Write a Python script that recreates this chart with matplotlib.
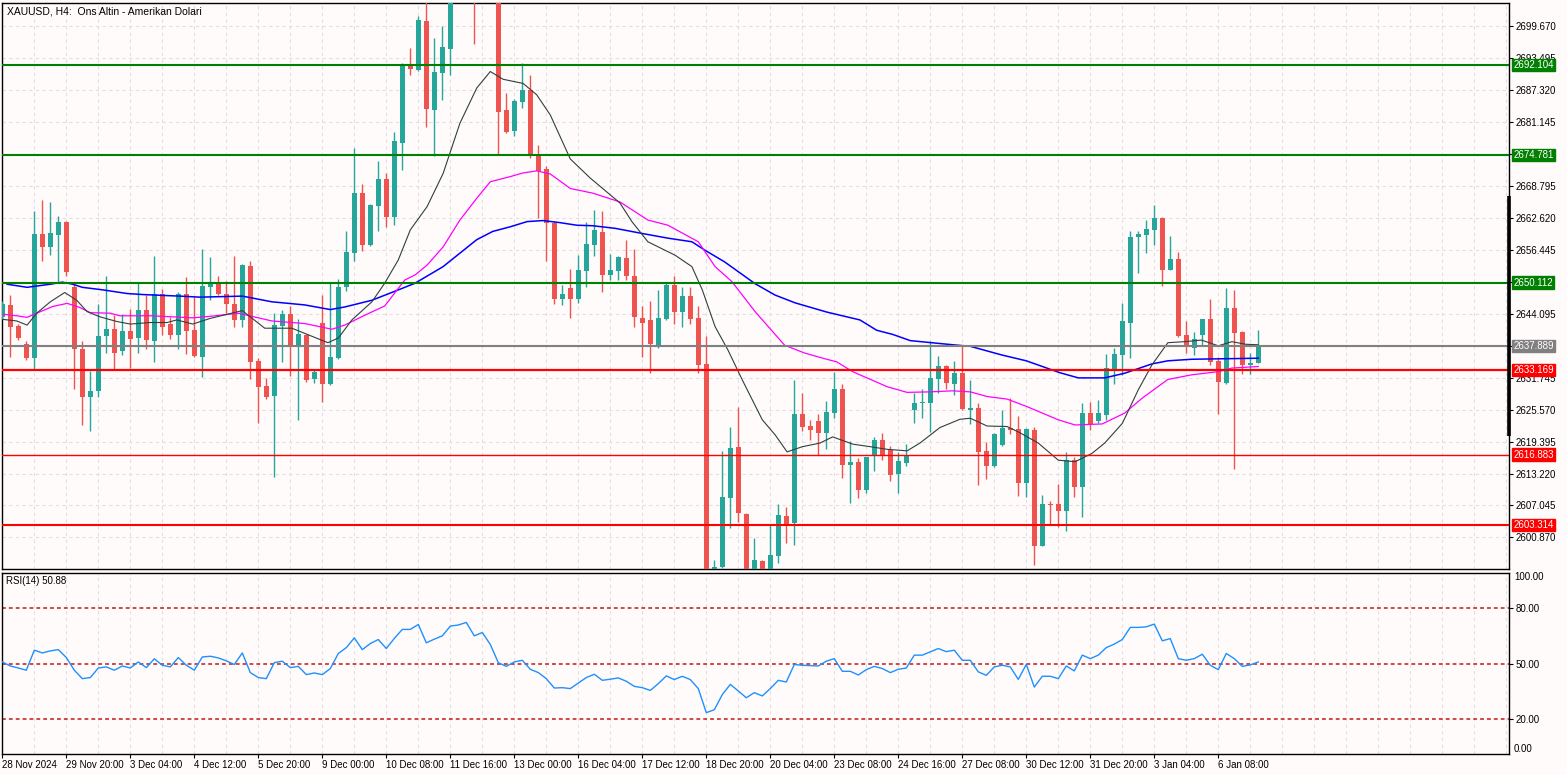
import matplotlib
matplotlib.use("Agg")
import matplotlib.pyplot as plt
import matplotlib.transforms as mtransforms
import numpy as np

plt.rcParams['font.family'] = ['Liberation Sans', 'DejaVu Sans']

# XAUUSD H4 candles
opens = [2643.5, 2645.8, 2641.8, 2638.2, 2635.6, 2659.5, 2656.9, 2659.4, 2661.8, 2649.3,
         2637.3, 2628.1, 2629.2, 2639.7, 2641.1, 2636.8, 2640.8, 2639.5, 2644.8, 2638.8,
         2648.0, 2642.1, 2639.9, 2648.0, 2640.9, 2635.8, 2649.3, 2650.0, 2647.9, 2646.0,
         2642.9, 2653.3, 2635.0, 2630.1, 2628.2, 2641.8, 2644.0, 2638.1, 2640.0, 2631.5,
         2642.4, 2630.5, 2635.5, 2649.2, 2655.9, 2667.5, 2657.4, 2664.9, 2670.1, 2662.8,
         2677.0, 2692.0, 2691.2, 2700.7, 2683.5, 2690.7, 2695.2, 2708.0, 2714.0, 2712.0,
         2708.0, 2720.0, 2714.0, 2683.5, 2679.5, 2685.1, 2687.3, 2674.6, 2672.0, 2661.7,
         2646.9, 2649.0, 2646.9, 2652.4, 2657.4, 2659.9, 2651.6, 2652.4, 2654.9, 2651.4,
         2643.3, 2642.9, 2638.1, 2643.1, 2649.6, 2644.5, 2647.5, 2643.3, 2634.4, 2592.0,
         2595.2, 2608.5, 2618.4, 2605.4, 2590.0, 2596.3, 2592.5, 2597.3, 2605.0, 2603.6,
         2624.7, 2622.4, 2623.3, 2621.1, 2624.9, 2629.5, 2614.9, 2615.4, 2610.0, 2616.7,
         2619.7, 2617.8, 2613.1, 2615.3, 2625.4, 2626.9, 2626.9, 2631.5, 2634.0, 2630.5,
         2632.7, 2625.5, 2625.9, 2617.6, 2614.7, 2618.7, 2622.1, 2621.8, 2611.4, 2621.6,
         2599.3, 2607.4, 2607.3, 2606.0, 2615.9, 2610.7, 2624.9, 2623.4, 2624.5, 2633.4,
         2636.1, 2642.4, 2659.0, 2659.3, 2660.3, 2662.6, 2652.6, 2654.7, 2639.9, 2637.5,
         2640.0, 2643.1, 2635.0, 2630.8, 2645.3, 2640.6, 2634.1, 2634.6]
highs = [2646.5, 2647.7, 2642.1, 2638.8, 2664.0, 2666.1, 2665.7, 2663.0, 2662.1, 2649.8,
         2638.8, 2633.1, 2646.0, 2651.4, 2643.9, 2644.0, 2645.0, 2650.0, 2647.7, 2655.2,
         2648.9, 2643.5, 2648.3, 2651.1, 2647.3, 2656.7, 2655.1, 2651.4, 2650.4, 2655.2,
         2653.7, 2654.3, 2635.5, 2631.6, 2644.3, 2644.8, 2645.5, 2643.0, 2640.1, 2633.4,
         2647.7, 2650.3, 2650.9, 2660.1, 2676.2, 2669.2, 2665.3, 2673.6, 2671.3, 2679.3,
         2692.5, 2695.5, 2701.7, 2705.5, 2697.4, 2699.6, 2712.0, 2716.0, 2721.0, 2718.0,
         2726.0, 2723.0, 2716.0, 2686.8, 2685.6, 2692.6, 2690.2, 2676.7, 2672.6, 2662.0,
         2649.6, 2652.7, 2655.4, 2661.9, 2664.1, 2664.0, 2655.6, 2655.2, 2658.3, 2656.7,
         2645.6, 2646.6, 2648.7, 2650.0, 2651.4, 2649.2, 2649.2, 2645.5, 2639.7, 2596.5,
         2617.6, 2622.3, 2626.1, 2605.6, 2600.7, 2596.5, 2603.5, 2607.3, 2606.7, 2631.3,
         2628.8, 2623.6, 2624.7, 2627.2, 2632.8, 2630.5, 2619.5, 2616.2, 2616.5, 2620.2,
         2621.0, 2618.5, 2617.4, 2618.9, 2628.8, 2629.5, 2638.8, 2635.9, 2634.2, 2635.0,
         2637.9, 2631.2, 2626.9, 2619.3, 2621.1, 2625.5, 2627.8, 2624.3, 2622.0, 2622.2,
         2609.1, 2608.0, 2611.2, 2617.3, 2616.5, 2626.9, 2627.1, 2627.4, 2636.3, 2637.4,
         2646.2, 2660.1, 2660.1, 2662.2, 2665.1, 2662.8, 2659.1, 2656.1, 2642.7, 2640.5,
         2643.1, 2646.9, 2635.8, 2649.1, 2648.7, 2640.8, 2636.6, 2640.9]
lows = [2643.0, 2635.8, 2639.0, 2635.2, 2633.4, 2654.2, 2655.4, 2650.3, 2651.3, 2629.6,
        2622.5, 2621.5, 2628.1, 2636.6, 2633.2, 2636.1, 2633.7, 2636.6, 2637.3, 2634.8,
        2639.9, 2639.2, 2637.3, 2636.3, 2635.8, 2631.9, 2646.7, 2647.7, 2644.2, 2641.6,
        2641.6, 2631.5, 2622.9, 2627.6, 2612.6, 2634.8, 2632.1, 2623.6, 2631.0, 2630.8,
        2627.1, 2630.3, 2635.4, 2648.4, 2654.3, 2656.3, 2657.2, 2660.1, 2660.9, 2661.2,
        2671.9, 2690.2, 2691.0, 2680.2, 2674.6, 2685.4, 2690.2, 2705.0, 2709.0, 2696.2,
        2706.0, 2710.0, 2674.8, 2679.1, 2678.5, 2683.9, 2674.1, 2662.5, 2654.3, 2646.0,
        2645.7, 2643.2, 2646.2, 2649.2, 2655.2, 2648.2, 2650.7, 2650.6, 2650.6, 2641.6,
        2635.8, 2632.6, 2637.5, 2642.9, 2642.1, 2641.6, 2642.2, 2632.6, 2584.0, 2588.0,
        2594.9, 2602.7, 2603.9, 2586.0, 2585.0, 2590.0, 2589.0, 2595.9, 2599.7, 2599.4,
        2621.5, 2619.7, 2616.8, 2617.9, 2624.0, 2612.4, 2607.6, 2608.5, 2609.5, 2613.7,
        2615.8, 2611.8, 2609.5, 2614.7, 2623.0, 2624.0, 2621.3, 2628.8, 2629.6, 2628.3,
        2625.5, 2622.8, 2611.0, 2612.2, 2614.4, 2618.6, 2620.8, 2608.9, 2608.7, 2595.5,
        2599.2, 2603.3, 2602.8, 2602.2, 2608.7, 2604.9, 2621.6, 2623.0, 2623.6, 2630.6,
        2632.3, 2635.6, 2652.0, 2655.9, 2657.4, 2649.5, 2652.5, 2639.6, 2636.6, 2636.1,
        2638.1, 2634.1, 2624.7, 2630.5, 2614.0, 2632.4, 2632.5, 2634.5]
closes = [2646.0, 2641.6, 2639.5, 2635.6, 2659.5, 2656.9, 2659.7, 2661.8, 2652.2, 2637.3,
          2628.1, 2629.2, 2639.8, 2641.1, 2636.6, 2640.8, 2639.3, 2644.8, 2639.0, 2648.0,
          2641.6, 2640.0, 2648.0, 2640.8, 2636.0, 2649.5, 2650.0, 2647.9, 2645.9, 2642.9,
          2653.5, 2634.8, 2630.0, 2628.1, 2641.9, 2644.0, 2638.1, 2640.2, 2631.3, 2632.8,
          2630.5, 2635.8, 2649.3, 2656.1, 2667.5, 2657.4, 2665.1, 2670.1, 2662.8, 2677.5,
          2692.3, 2691.4, 2700.9, 2683.7, 2690.9, 2695.7, 2708.0, 2714.0, 2712.0, 2708.0,
          2720.0, 2714.0, 2683.1, 2679.3, 2685.2, 2687.3, 2674.6, 2671.7, 2661.7, 2646.9,
          2648.0, 2646.9, 2652.5, 2657.6, 2660.3, 2651.6, 2652.5, 2655.0, 2651.4, 2643.5,
          2642.4, 2638.2, 2643.3, 2649.6, 2644.5, 2647.5, 2643.1, 2634.2, 2592.0, 2595.2,
          2608.7, 2618.2, 2605.5, 2590.0, 2596.5, 2592.5, 2597.5, 2605.2, 2603.3, 2624.7,
          2622.3, 2621.6, 2621.1, 2625.2, 2629.5, 2614.9, 2615.4, 2610.0, 2616.5, 2619.7,
          2616.7, 2612.9, 2615.6, 2616.7, 2626.9, 2627.0, 2631.6, 2634.0, 2630.8, 2632.7,
          2625.7, 2625.9, 2617.4, 2614.7, 2620.9, 2622.1, 2621.6, 2611.4, 2621.8, 2599.3,
          2607.3, 2607.1, 2606.0, 2615.9, 2610.7, 2624.9, 2622.7, 2624.9, 2633.6, 2636.3,
          2642.7, 2658.9, 2659.5, 2660.5, 2662.6, 2652.6, 2654.7, 2639.7, 2637.7, 2639.2,
          2643.1, 2634.8, 2631.0, 2645.3, 2640.3, 2634.1, 2634.6, 2637.9]

# moving averages, read at sample bars
ma_black_idx = [0.1, 1.8, 3.1, 4.3, 6, 7.8, 9.3, 10.6, 12.2, 14.3, 16, 18.5, 20.6, 21.8, 23.8, 26, 30, 32.8,
                36.2, 37.8, 40.7, 42, 43.7, 46.2, 47.8, 49.5, 51, 53.1, 55.1, 57.2, 59.3, 61, 62.6, 65.1,
                66.8, 68.5, 71, 73.5, 77.2, 78.7, 80.7, 84.1, 86.2, 87.5, 89.1, 90.7, 92.5, 95, 96.6, 98.1,
                100, 102.2, 103.8, 106.3, 108.5, 110.6, 113.1, 114.7, 117.2, 119.7, 121, 123.1, 125.6,
                127.2, 129.5, 132, 134.1, 136.2, 137.8, 140, 142, 143.7, 145.7, 147.8, 149.9, 152, 153.7,
                155.4, 157]
ma_black = [2643.0, 2642.7, 2641.9, 2644.2, 2646.4, 2648.2, 2646.7, 2644.5, 2643.5, 2642.6,
            2642.1, 2642.4, 2642.4, 2642.9, 2642.1, 2643.2, 2644.7, 2641.3, 2641.3, 2640.3,
            2638.5, 2639.4, 2642.9, 2646.4, 2650.0, 2654.5, 2660.3, 2664.8, 2671.2, 2680.9,
            2687.7, 2690.9, 2689.4, 2688.6, 2686.4, 2682.5, 2674.0, 2670.3, 2665.5, 2661.9,
            2658.0, 2655.4, 2653.2, 2648.7, 2641.6, 2637.1, 2631.3, 2623.6, 2620.7, 2617.4,
            2618.4, 2619.1, 2620.3, 2618.9, 2618.4, 2617.9, 2617.6, 2619.1, 2622.1, 2623.7,
            2623.9, 2622.4, 2622.3, 2621.1, 2619.1, 2615.8, 2615.5, 2617.1, 2619.1, 2622.9,
            2629.4, 2634.2, 2638.5, 2638.7, 2639.0, 2637.9, 2638.7, 2638.2, 2638.1]
ma_mag_idx = [0.1, 1.8, 3.1, 4.3, 6.3, 8.1, 9.7, 11, 13.5, 14.7, 18.5, 21.3, 23.8, 26, 29.5, 33.7, 37.8,
              41.2, 42.8, 45.3, 47.8, 50.3, 51.6, 53.1, 55.1, 57.2, 59.3, 61, 63.5, 65.1, 66.8, 68.5, 71,
              73.8, 77.2, 80.7, 83.2, 87, 89.1, 91.2, 94.1, 97.8, 100.3, 102.8, 104.3, 106.3, 110.6,
              113.1, 116, 118.8, 121, 123.1, 125.6, 128, 132, 134.1, 137.5, 140.3, 142.5, 145.7, 148.7,
              152, 153.7, 157]
ma_mag = [2644.0, 2643.7, 2643.4, 2644.2, 2645.5, 2646.1, 2645.3, 2644.3, 2644.2, 2643.7,
          2643.7, 2643.5, 2643.3, 2643.6, 2644.2, 2642.7, 2642.2, 2641.1, 2641.9, 2643.8,
          2645.6, 2650.6, 2651.6, 2653.5, 2657.0, 2662.2, 2666.4, 2669.6, 2670.6, 2671.3,
          2671.7, 2671.1, 2668.3, 2667.4, 2665.7, 2662.2, 2661.2, 2658.0, 2653.2, 2650.3,
          2644.5, 2638.0, 2636.5, 2635.4, 2634.8, 2632.9, 2630.0, 2628.9, 2629.0, 2629.2,
          2629.0, 2628.1, 2627.6, 2626.2, 2623.6, 2622.6, 2622.8, 2624.9, 2627.8, 2631.4,
          2632.3, 2632.9, 2633.6, 2633.9]
ma_blue_idx = [0.6, 3.1, 6, 7.5, 8.8, 10, 12.6, 15.6, 17.6, 20.6, 22.2, 24.7, 30, 33.7, 37.8, 41, 42.8,
               46.2, 49.5, 51.6, 55.1, 59.3, 61.3, 63.5, 65.6, 67.6, 69.7, 71.8, 73.8, 76.6, 80, 83.2,
               86.2, 87.8, 90.3, 94.1, 96.6, 99.1, 103.1, 107.2, 109.3, 111.3, 113.5, 118.8, 121, 125,
               128, 132.2, 134.5, 137.8, 140.3, 143.7, 145.7, 148.7, 152.8, 157]
ma_blue = [2649.8, 2649.2, 2649.8, 2650.2, 2649.8, 2649.2, 2648.7, 2648.0, 2647.8, 2647.6,
           2647.5, 2647.3, 2647.5, 2646.4, 2645.8, 2644.9, 2645.4, 2646.7, 2648.7, 2650.0,
           2653.2, 2658.4, 2660.0, 2660.9, 2661.9, 2662.1, 2661.7, 2661.2, 2661.1, 2660.6,
           2659.6, 2658.7, 2658.0, 2656.4, 2654.1, 2649.9, 2647.7, 2646.2, 2644.4, 2642.9,
           2640.9, 2640.1, 2638.9, 2638.1, 2637.8, 2636.1, 2635.0, 2632.7, 2631.7, 2631.7,
           2632.6, 2634.4, 2635.0, 2635.3, 2635.4, 2635.5]

rsi = [50.9, 48.7, 47.6, 46.4, 57.3, 55.8, 56.9, 57.6, 53.3, 46.4,
       41.8, 42.4, 47.6, 48.2, 46.4, 48.7, 47.6, 50.9, 47.8, 52.6,
       49.1, 48.2, 53.3, 49.1, 46.4, 53.6, 54.0, 53.1, 51.5, 49.5,
       55.8, 45.1, 42.4, 41.8, 50.5, 51.3, 47.8, 48.5, 44.0, 44.9,
       44.0, 47.3, 55.5, 58.7, 64.0, 57.6, 60.9, 63.1, 58.2, 63.7,
       68.6, 68.6, 71.3, 61.3, 63.3, 65.1, 70.4, 71.0, 72.4, 65.1,
       66.9, 60.4, 50.5, 48.5, 50.9, 51.8, 46.9, 45.1, 41.8, 36.7,
       36.9, 36.4, 39.4, 42.4, 44.2, 40.9, 41.5, 42.2, 40.4, 37.6,
       36.9, 35.4, 39.1, 43.3, 41.3, 43.1, 41.3, 36.4, 23.3, 24.9,
       33.1, 38.7, 35.1, 31.4, 34.2, 32.4, 36.4, 40.9, 40.0, 49.5,
       49.1, 48.9, 48.7, 51.3, 52.7, 45.8, 45.8, 43.8, 46.7, 48.5,
       47.3, 45.1, 46.9, 47.6, 54.6, 54.6, 56.4, 58.2, 56.5, 57.3,
       51.8, 51.8, 45.5, 43.6, 48.2, 49.1, 48.2, 41.4, 49.6, 37.2,
       43.1, 43.1, 41.8, 48.7, 46.0, 54.6, 52.7, 54.6, 58.7, 60.6,
       63.1, 69.7, 69.7, 70.0, 71.5, 62.4, 63.6, 52.7, 51.8, 52.7,
       55.1, 49.1, 46.7, 55.5, 52.7, 48.5, 49.3, 50.88]

green_levels = [2692.104, 2674.781, 2650.112]
red_levels = [2633.169, 2616.883, 2603.314]
bid = 2637.889
price_grid = [2699.670 - 6.175 * k for k in range(17)]
# grid prices whose labels sit fully under a level tag in the reference
hidden_labels = [2674.970, 2650.270, 2637.920]
date_pos = list(range(0, 153, 8))
date_labels = ["28 Nov 2024", "29 Nov 20:00", "3 Dec 04:00", "4 Dec 12:00", "5 Dec 20:00",
               "9 Dec 00:00", "10 Dec 08:00", "11 Dec 16:00", "13 Dec 00:00", "16 Dec 04:00",
               "17 Dec 12:00", "18 Dec 20:00", "20 Dec 04:00", "23 Dec 08:00", "24 Dec 16:00",
               "27 Dec 08:00", "30 Dec 12:00", "31 Dec 20:00", "3 Jan 04:00", "6 Jan 08:00"]

BG = '#FFFBFB'
BULL = '#26A69A'
BEAR = '#EF5350'
GRID = '#E2DEE2'

W, H = 1567, 775
fig = plt.figure(figsize=(W / 100, H / 100), dpi=100, facecolor=BG)


def px_box(x0, y0, x1, y1):
    return [x0 / W, 1 - y1 / H, (x1 - x0) / W, (y1 - y0) / H]


ax = fig.add_axes(px_box(2, 3, 1509, 569))
axr = fig.add_axes(px_box(2, 573, 1509, 754), sharex=ax)
for a in (ax, axr):
    a.set_facecolor(BG)
    for s in a.spines.values():
        s.set_color('black')
        s.set_linewidth(1)
    for g in range(0, 190, 4):
        a.axvline(g, color=GRID, lw=0.8, dashes=(3, 3), zorder=0.5)

ax.set_xlim(-0.04, 188.34)
ax.set_ylim(2594.77, 2704.14)

for p in price_grid:
    ax.axhline(p, color=GRID, lw=0.8, dashes=(3, 3), zorder=0.5)

# candles
o, h, l, c = (np.array(v) for v in (opens, highs, lows, closes))
idx = np.arange(len(c))
col = np.where(c >= o, BULL, BEAR)
ax.vlines(idx, l, h, colors=col, linewidth=1, zorder=3)
ax.bar(idx, np.maximum(np.abs(c - o), 0.22), bottom=np.minimum(o, c), width=0.62,
       color=col, linewidth=0, zorder=4)

ax.plot(ma_blue_idx, ma_blue, color='#0000FF', lw=1.1, zorder=5)
ax.plot(ma_mag_idx, ma_mag, color='#FF00FF', lw=0.9, zorder=5)
ax.plot(ma_black_idx, ma_black, color='#2F3F3F', lw=0.8, zorder=5)

# horizontal levels
for p in green_levels:
    ax.axhline(p, color='#008000', lw=1.5, zorder=6)
for p, w in zip(red_levels, [1.6, 1.0, 1.5]):
    ax.axhline(p, color='#FF0000', lw=w, zorder=6)
ax.axhline(bid, color='#808080', lw=1.5, zorder=6)

# right price scale
ax.yaxis.tick_right()
ax.set_yticks(price_grid)
ax.set_yticklabels(['' if any(abs(p - q) < 0.01 for q in hidden_labels) else '%.3f' % p
                    for p in price_grid])
ax.tick_params(axis='y', length=3, pad=2, labelsize=7, colors='black')
ax.tick_params(axis='x', bottom=False, labelbottom=False)

tr = mtransforms.blended_transform_factory(ax.transAxes, ax.transData)
tag_x = (1513.5 - 2) / 1507
tags = [(p, '#008000') for p in green_levels] + [(p, '#FF0000') for p in red_levels] + [(bid, '#808080')]
for p, fc in tags:
    ax.text(tag_x, p, '%.3f' % p, transform=tr, ha='left', va='center', fontsize=7,
            color='white', clip_on=False, zorder=10,
            bbox=dict(boxstyle='square,pad=0.12', fc=fc, ec=fc))

ax.plot([1.0, 1.0], [0.235, 0.659], transform=ax.transAxes, color='black', lw=2.6,
        clip_on=False, zorder=11, solid_capstyle='butt')

ax.text(5 / 1507, 1 - 4 / 566, 'XAUUSD, H4:  Ons Altin - Amerikan Dolari', transform=ax.transAxes,
        ha='left', va='top', fontsize=7.5, color='black', zorder=12)

# RSI panel
axr.set_ylim(0.8, 99.3)
for lv in (80, 50, 20):
    axr.axhline(lv, color='#C01818', lw=1.1, dashes=(2.5, 2), zorder=2)
axr.plot(idx, rsi, color='#1E90FF', lw=1.0, zorder=4)
axr.yaxis.tick_right()
axr.set_yticks([80, 50, 20])
axr.set_yticklabels(['80.00', '50.00', '20.00'])
axr.tick_params(axis='y', length=3, pad=2, labelsize=7, colors='black')
axr.text(1.0 + 5 / 1507, 1 - 4 / 181, '100.00', transform=axr.transAxes, ha='left', va='center',
         fontsize=7, clip_on=False)
axr.text(1.0 + 5 / 1507, 5 / 181, '0.00', transform=axr.transAxes, ha='left', va='center',
         fontsize=7, clip_on=False)
axr.text(4 / 1507, 1 - 3 / 181, 'RSI(14) 50.88', transform=axr.transAxes, ha='left', va='top',
         fontsize=7, zorder=12)

axr.set_xticks(date_pos)
axr.set_xticklabels(date_labels, ha='left')
axr.tick_params(axis='x', length=3, pad=1.5, labelsize=7, colors='black')

fig.savefig('out.png', dpi=100, facecolor=BG)
